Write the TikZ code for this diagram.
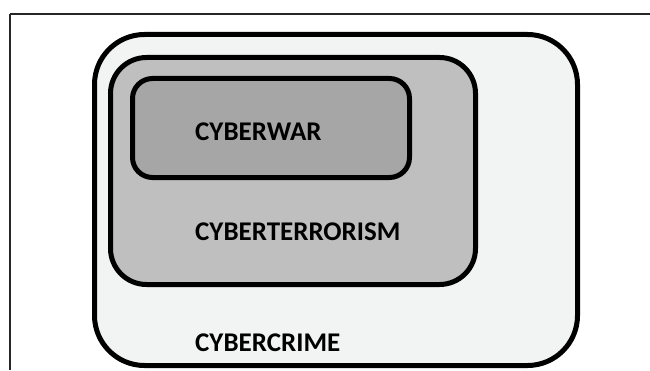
\documentclass[tikz,border=0pt]{standalone}
\usepackage{fontspec}
\setmainfont{Carlito}
\tikzset{label text/.style={anchor=west,font=\bfseries\fontsize{27}{31}\selectfont,inner sep=0pt}}
\begin{document}
\begin{tikzpicture}[x=1pt,y=1pt]
\useasboundingbox (0,0) rectangle (650,370);
\draw[line width=1.5,color=black!85](10,356)--(650,356);
\draw[line width=1.5,color=black!85](10,356)--(10,0);
\draw[line width=5,rounded corners=50,fill={rgb,255:red,242;green,243;blue,243}](94.5,4.5) rectangle (577.5,335.5);
\draw[line width=5,rounded corners=36,fill={rgb,255:red,191;green,191;blue,191}](110.5,85.5) rectangle (475.5,312.5);
\draw[line width=5,rounded corners=20,fill={rgb,255:red,166;green,166;blue,166}](132.5,192.5) rectangle (409.5,291.5);
\node[label text] (war) at (195,238) {CYBERWAR};
\node[label text] (terror) at (195,138) {CYBERTERRORISM};
\node[label text] (crime) at (195,27) {CYBERCRIME};
\end{tikzpicture}
\end{document}
